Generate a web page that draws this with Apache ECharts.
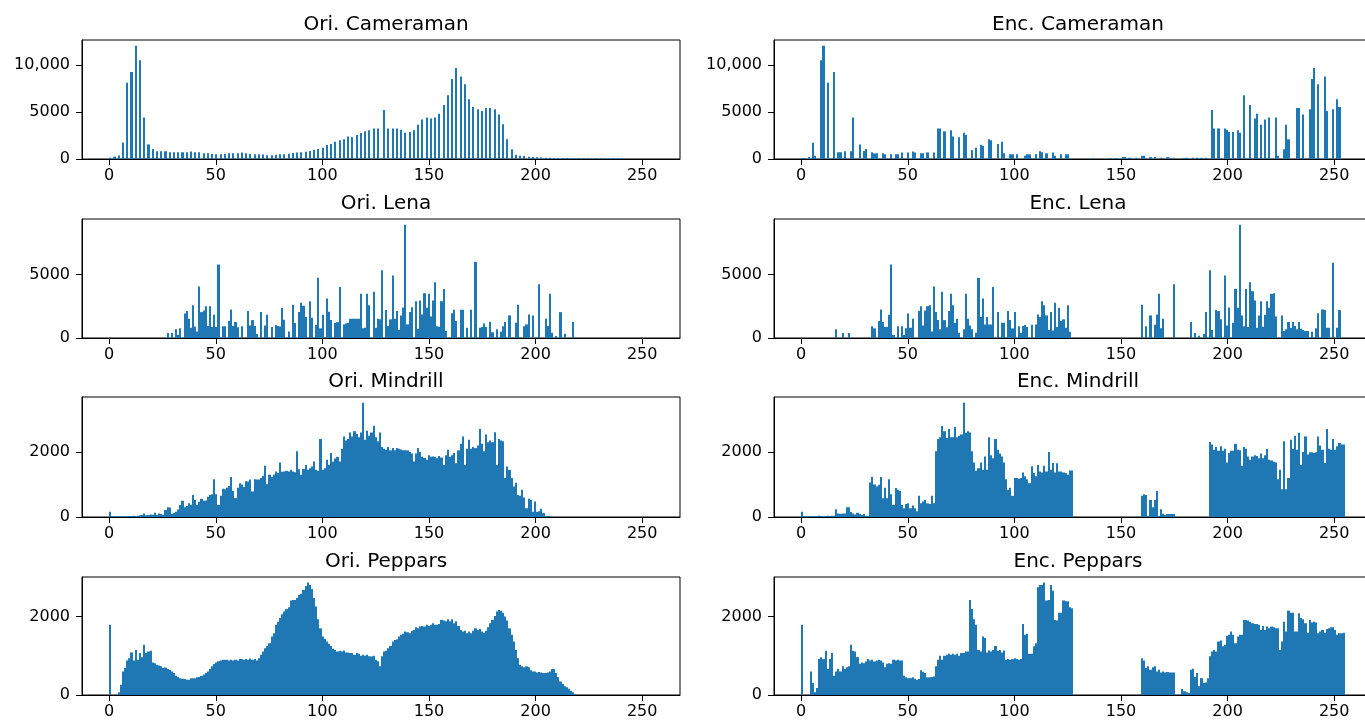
<!DOCTYPE html>
<html>
<head>
<meta charset="utf-8">
<script src="https://cdn.jsdelivr.net/npm/echarts@6/dist/echarts.min.js"></script>
<style>
html, body { margin: 0; background: #fff; overflow: hidden; }
#box { width: 1400px; height: 720px; }
</style>
</head>
<body>
<div id="box"></div>
<script>
// histogram titles, row by row (left, right)
var titles = ['Ori. Cameraman', 'Enc. Cameraman', 'Ori. Lena', 'Enc. Lena',
    'Ori. Mindrill', 'Enc. Mindrill', 'Ori. Peppars', 'Enc. Peppars'];
var xTicks = [0, 50, 100, 150, 200, 250];
var yTicks = [[0, 5000, 10000], [0, 5000], [0, 2000], [0, 2000]];

// sparse histograms: [bin, count]
var oriCameraman = [[0,120],[2,250],[4,380],[6,1750],[8,8100],[10,9250],[12,12050],[14,10500],[16,4400],[18,1550],
    [20,1060],[22,820],[24,820],[26,820],[28,720],[30,720],[32,720],[34,720],[36,720],[38,800],[40,720],[42,720],
    [44,620],[46,600],[48,520],[50,500],[52,500],[54,520],[56,600],[58,600],[60,620],[62,700],[64,600],[66,520],
    [68,500],[70,500],[72,480],[74,400],[76,400],[78,450],[80,500],[82,500],[84,560],[86,650],[88,700],[90,720],
    [92,780],[94,850],[96,950],[98,1050],[100,1200],[102,1490],[104,1600],[106,1840],[108,1990],[110,2090],
    [112,2400],[114,2300],[116,2550],[118,2770],[120,2940],[122,3050],[124,3250],[126,3250],[129,5200],
    [131,3250],[133,3250],[135,3250],[137,3120],[139,2800],[141,2870],[143,3050],[145,3650],[147,4200],
    [149,4400],[151,4300],[153,4400],[155,4800],[157,5750],[159,6770],[161,8500],[163,9680],[165,8760],
    [167,7940],[169,6350],[171,5530],[173,5280],[175,5100],[177,5430],[179,5430],[181,5280],[183,4720],
    [185,3690],[187,2090],[189,1030],[191,460],[193,350],[195,320],[197,250],[199,210],[201,180],[203,150],
    [205,130],[207,120],[209,110],[211,100],[213,100],[215,100],[217,90],[219,90],[221,90],[223,90],[225,80],
    [229,80],[231,80],[233,80],[235,80],[237,80],[239,80],[241,70]];
var encCameraman = [[0,100],[1,100],[3,200],[5,1740],[6,350],[9,10500],[10,12050],[12,8100],[15,9250],[17,720],
    [18,720],[20,820],[23,820],[24,4400],[27,1550],[29,850],[30,1060],[33,720],[34,600],[35,600],[38,600],
    [39,500],[42,500],[44,500],[45,500],[47,700],[50,700],[52,800],[53,700],[56,600],[57,600],[59,700],[62,700],
    [64,3250],[65,3250],[67,2940],[70,3050],[71,2400],[74,2300],[76,2800],[77,2550],[80,920],[82,1200],
    [84,1520],[85,1420],[88,2090],[89,1990],[92,1600],[94,1840],[95,600],[98,500],[99,500],[101,500],[105,350],
    [106,500],[107,500],[110,500],[112,820],[113,720],[115,600],[118,700],[119,350],[122,500],[124,500],
    [125,500],[137,100],[145,100],[148,100],[151,200],[152,200],[154,120],[155,120],[157,120],[160,350],
    [161,350],[164,200],[166,200],[169,120],[172,200],[173,120],[175,120],[180,120],[181,120],[184,120],
    [186,120],[188,120],[190,120],[193,5200],[194,3250],[196,3250],[199,3250],[200,3120],[201,2870],[203,2870],
    [205,3050],[206,2800],[208,6770],[211,5750],[213,4300],[214,4800],[216,3650],[218,4200],[220,4400],
    [223,4400],[224,350],[227,1030],[228,3650],[229,2090],[233,5430],[234,5430],[236,4720],[239,5280],
    [240,8500],[241,9680],[243,7940],[246,8760],[247,5100],[250,5280],[252,6350],[253,5530]];
var oriLena = [[27,390],[29,390],[31,680],[32,240],[33,760],[35,1940],[36,2120],[37,1520],[38,810],[39,2590],
    [40,900],[41,520],[42,4060],[43,2040],[44,2170],[45,2510],[46,940],[47,2510],[48,860],[49,1830],[50,860],
    [51,5790],[53,920],[54,920],[56,1340],[57,2250],[58,940],[59,1260],[60,840],[62,920],[65,2120],[66,990],
    [67,1410],[68,940],[69,310],[71,2040],[73,990],[74,1830],[76,860],[78,1020],[79,940],[80,900],[81,2360],
    [82,1440],[84,520],[86,2620],[87,1180],[89,2040],[90,2780],[91,2540],[92,1650],[94,2900],[95,1600],
    [97,1050],[98,4740],[99,760],[100,1830],[102,3120],[103,2070],[104,1410],[106,1180],[107,1250],[108,4010],
    [110,1070],[111,1150],[112,1200],[113,1520],[114,1520],[115,1520],[116,1520],[117,1520],[118,3480],
    [119,760],[120,800],[121,3480],[122,2590],[124,3640],[125,810],[126,1520],[127,1470],[128,5340],[130,2200],
    [131,940],[132,1470],[133,4920],[134,1520],[135,2120],[136,650],[137,1780],[138,2410],[139,8930],[140,1070],
    [141,2040],[142,2430],[144,2900],[145,730],[146,2960],[147,1860],[148,3530],[149,2380],[150,3480],
    [151,1700],[152,2960],[153,4400],[154,920],[155,890],[156,2900],[157,3870],[158,550],[161,1960],[162,2230],
    [163,1340],[165,2230],[166,2230],[168,810],[170,2230],[172,6000],[174,810],[175,860],[176,1150],[177,860],
    [179,1280],[180,450],[182,680],[184,500],[185,920],[186,1260],[188,1780],[191,1200],[192,2620],[195,920],
    [196,1070],[197,1860],[199,1780],[202,4240],[205,1520],[206,940],[207,3480],[208,420],[210,160],[212,2040],
    [214,340],[218,1260]];
var encLena = [[16,680],[19,390],[22,390],[33,920],[34,760],[36,1340],[37,2250],[38,1260],[39,860],[40,860],
    [41,1830],[42,5790],[43,240],[45,920],[47,920],[48,240],[49,760],[50,1940],[51,810],[52,1520],[55,2120],
    [56,2510],[57,990],[58,2170],[59,2510],[60,2590],[61,520],[62,4060],[63,2040],[64,1410],[65,680],[66,3640],
    [67,1410],[68,840],[69,2120],[70,3480],[71,2590],[72,1180],[73,1520],[74,420],[76,680],[77,3480],[78,1520],
    [79,990],[80,680],[82,420],[83,4740],[84,1650],[85,3120],[86,1070],[87,1650],[88,1070],[89,1070],[90,4010],
    [92,2040],[94,1200],[95,1200],[97,2120],[98,1410],[99,760],[100,2040],[102,920],[103,390],[104,940],
    [105,1020],[106,860],[108,1050],[110,1070],[111,1860],[112,1650],[113,2900],[114,2590],[115,1780],[116,630],
    [117,2040],[118,600],[119,2780],[120,860],[121,2380],[122,1340],[123,1470],[124,810],[125,2590],[126,500],
    [160,2620],[162,920],[164,1780],[166,1050],[167,1860],[168,3480],[169,760],[170,1520],[175,4240],[183,1260],
    [185,390],[187,180],[189,310],[190,2040],[192,5340],[193,630],[195,2200],[196,2120],[197,1470],[199,4920],
    [200,990],[201,2410],[203,1200],[204,3870],[205,2380],[206,8930],[207,1780],[208,920],[209,3870],[210,860],
    [211,4400],[212,3690],[213,2960],[214,810],[215,1780],[216,2900],[217,890],[218,1830],[219,2900],
    [220,2380],[221,3480],[222,3530],[223,1700],[226,1780],[227,550],[228,680],[229,1260],[230,810],[231,1260],
    [232,940],[233,680],[234,1260],[235,730],[236,630],[237,550],[238,550],[240,500],[242,760],[243,1960],
    [245,2250],[246,2200],[247,810],[248,810],[250,5920],[252,810],[253,2200]];

// dense histograms: count per bin 0..255
var oriMindrill = [
    165, 30, 25, 20, 20, 20, 20, 25, 20, 30,
    30, 35, 30, 40, 50, 60, 110, 55, 60, 80,
    70, 130, 60, 110, 90, 70, 215, 300, 290, 100,
    120, 165, 230, 370, 500, 300, 340, 420, 380, 680,
    520, 370, 470, 560, 500, 510, 620, 680, 700, 1165,
    700, 370, 650, 870, 855, 900, 950, 1230, 800, 580,
    900, 1040, 1000, 920, 1100, 1090, 1150, 785, 1165, 1150,
    1150, 1200, 1270, 1580, 1010, 1300, 1230, 1310, 1400, 1350,
    1680, 1390, 1400, 1420, 1400, 1450, 1400, 1380, 2020, 1470,
    1300, 1480, 1600, 1450, 1500, 1550, 1710, 1450, 1420, 2400,
    1450, 1500, 1760, 1600, 1970, 1700, 1800, 1850, 1710, 2100,
    2480, 2350, 2400, 2600, 2480, 2640, 2550, 2450, 2600, 3516,
    2380, 2650, 2500, 2600, 2810, 2450, 2330, 2600, 2150, 2100,
    2070, 2150, 2050, 2120, 2050, 2120, 2100, 2080, 2050, 2050,
    2050, 2000, 1950, 1710, 1950, 2120, 2000, 1850, 1820, 1760,
    1900, 1850, 1860, 1850, 1810, 1880, 1830, 1600, 1900, 2070,
    1850, 1900, 1970, 1650, 2050, 2250, 2480, 1600, 2100, 2380,
    2100, 2150, 2120, 2200, 2710, 2250, 2020, 2540, 2300, 2350,
    2300, 2610, 1600, 2400, 2350, 2330, 1200, 1550, 1450, 1200,
    940, 1050, 680, 650, 835, 600, 270, 560, 525, 165,
    480, 160, 180, 250, 120, 30, 30, 20, 0, 0,
    0, 0, 0, 0, 0, 0, 0, 0, 0, 0,
    0, 0, 0, 0, 0, 0, 0, 0, 0, 0,
    0, 0, 0, 0, 0, 0, 0, 0, 0, 0,
    0, 0, 0, 0, 0, 0, 0, 0, 0, 0,
    0, 0, 0, 0, 0, 0];
var encMindrill = [
    165, 30, 25, 30, 20, 30, 25, 30, 35, 30,
    25, 30, 35, 30, 40, 35, 240, 110, 100, 110,
    110, 300, 300, 150, 110, 80, 130, 90, 60, 90,
    40, 30, 1060, 1230, 1000, 940, 990, 1230, 580, 900,
    580, 1165, 700, 370, 890, 835, 800, 370, 270, 400,
    420, 270, 350, 270, 180, 650, 420, 480, 525, 420,
    400, 650, 420, 2020, 2400, 2450, 2800, 2640, 2430, 2710,
    2450, 2450, 2770, 2450, 2500, 2540, 3516, 2590, 2640, 2600,
    2020, 1680, 1420, 1500, 1680, 1450, 1860, 1450, 2450, 1900,
    1810, 2400, 2070, 1950, 1860, 1680, 1165, 835, 900, 650,
    1200, 1200, 1180, 1200, 1370, 1250, 1165, 1040, 1560, 1350,
    1250, 1600, 1400, 1370, 1580, 1400, 2000, 1450, 1660, 1370,
    1650, 1400, 1400, 1370, 1350, 1300, 1430, 1430, 0, 0,
    0, 0, 0, 0, 0, 0, 0, 0, 0, 0,
    0, 0, 0, 0, 0, 0, 0, 0, 0, 0,
    0, 0, 0, 0, 0, 0, 0, 0, 0, 0,
    650, 700, 680, 30, 525, 300, 525, 800, 30, 240,
    100, 60, 90, 90, 90, 90, 0, 0, 0, 0,
    0, 0, 0, 0, 0, 0, 0, 0, 0, 0,
    0, 0, 2310, 2230, 2070, 2150, 2040, 2180, 2040, 2100,
    1680, 1970, 2040, 2040, 2250, 2070, 2050, 1580, 2150, 2100,
    1860, 1760, 1860, 1900, 1880, 1810, 1950, 1810, 1900, 2090,
    1760, 1740, 1700, 1680, 1165, 1450, 855, 2330, 855, 1200,
    2380, 2100, 2500, 2070, 2590, 1600, 2000, 2480, 1920, 1990,
    1990, 1970, 1990, 2480, 2200, 2070, 1660, 2710, 2100, 2070,
    2400, 2070, 2180, 2280, 2230, 2230];
var oriPeppars = [
    1788, 0, 0, 0, 70, 260, 600, 690, 880, 940,
    1085, 880, 1150, 900, 1070, 960, 1280, 1070, 1110, 1130,
    830, 810, 770, 750, 730, 690, 700, 660, 640, 600,
    560, 490, 460, 430, 415, 405, 390, 390, 430, 430,
    430, 450, 460, 490, 520, 560, 600, 660, 730, 790,
    830, 860, 880, 900, 900, 900, 880, 900, 880, 900,
    880, 915, 915, 900, 915, 900, 930, 900, 915, 880,
    940, 1025, 1110, 1195, 1250, 1320, 1490, 1575, 1790, 1870,
    1960, 2060, 2130, 2190, 2240, 2410, 2420, 2420, 2470, 2550,
    2580, 2680, 2780, 2865, 2805, 2700, 2470, 2255, 1930, 1700,
    1490, 1425, 1365, 1305, 1250, 1180, 1150, 1110, 1130, 1110,
    1135, 1085, 1085, 1070, 1070, 1025, 1070, 1050, 1000, 1025,
    1000, 1025, 985, 985, 1000, 900, 860, 730, 985, 1110,
    1130, 1195, 1250, 1365, 1405, 1420, 1490, 1535, 1560, 1620,
    1600, 1575, 1640, 1660, 1730, 1700, 1745, 1760, 1745, 1790,
    1760, 1790, 1830, 1790, 1790, 1810, 1915, 1900, 1880, 1930,
    1880, 1930, 1830, 1880, 1760, 1660, 1620, 1640, 1575, 1620,
    1575, 1640, 1700, 1660, 1680, 1620, 1590, 1640, 1730, 1830,
    1915, 2015, 2130, 2170, 2150, 2100, 2000, 1900, 1700, 1535,
    1365, 1150, 940, 770, 730, 710, 730, 710, 630, 600,
    600, 575, 585, 575, 560, 560, 575, 600, 660, 660,
    560, 460, 345, 280, 220, 200, 160, 110, 70, 25,
    0, 0, 0, 0, 0, 0, 0, 0, 0, 0,
    0, 0, 0, 0, 0, 0, 0, 0, 0, 0,
    0, 0, 0, 0, 0, 0, 0, 0, 0, 0,
    0, 0, 0, 0, 0, 0];
var encPeppars = [
    1788, 0, 0, 0, 600, 305, 70, 180, 915, 965,
    915, 1130, 660, 915, 1070, 490, 600, 660, 600, 730,
    660, 710, 730, 1280, 1130, 1110, 965, 795, 830, 810,
    855, 915, 880, 900, 855, 880, 900, 880, 830, 710,
    795, 810, 795, 900, 880, 900, 880, 880, 490, 450,
    430, 430, 450, 415, 390, 405, 630, 590, 560, 450,
    450, 460, 470, 730, 900, 1000, 900, 1000, 1025, 1050,
    1025, 1050, 1025, 1050, 1000, 1070, 1070, 1110, 1110, 2420,
    2190, 1930, 1790, 1150, 1110, 1490, 1450, 1085, 1135, 1110,
    1150, 1250, 1130, 1150, 1085, 1135, 900, 915, 900, 915,
    940, 915, 900, 915, 1810, 1535, 1560, 1050, 1050, 1240,
    1320, 2745, 2805, 2805, 2865, 2410, 2420, 2805, 2660, 1915,
    1900, 2100, 2100, 2410, 2390, 2390, 2240, 2210, 0, 0,
    0, 0, 0, 0, 0, 0, 0, 0, 0, 0,
    0, 0, 0, 0, 0, 0, 0, 0, 0, 0,
    0, 0, 0, 0, 0, 0, 0, 0, 0, 0,
    940, 880, 690, 730, 645, 710, 730, 600, 645, 575,
    600, 575, 585, 575, 575, 575, 0, 0, 0, 150,
    95, 70, 50, 645, 670, 460, 560, 220, 430, 305,
    320, 430, 985, 1110, 1150, 1110, 1365, 1390, 1240, 1280,
    1510, 1535, 1620, 1535, 1320, 1490, 1535, 1535, 1915, 1915,
    1900, 1870, 1830, 1810, 1810, 1790, 1660, 1760, 1660, 1745,
    1700, 1745, 1730, 1700, 1700, 1150, 1365, 1870, 1620, 2150,
    2100, 2100, 1620, 1620, 2085, 1960, 1930, 1830, 1590, 1915,
    1850, 1870, 1850, 1575, 1620, 1660, 1590, 1680, 1700, 1730,
    1730, 1660, 1535, 1575, 1575, 1590];

window.onload = function () {

    var myChart = echarts.init(document.getElementById("box"));
    var binW = 255 / 256;
    var rowTop = [40, 219, 397, 577];
    var rowH = [119, 119, 120, 119];
    var colLeft = [82, 774];
    var plotW = 598;   // the right column runs past the 1365px window, as in the original
    var font = 'DejaVu Sans';

    function toPairs(arr) {
        var out = [];
        arr.forEach(function (v, i) { if (v > 0) out.push([i, v]); });
        return out;
    }
    var hists = [oriCameraman, encCameraman, oriLena, encLena,
        toPairs(oriMindrill), toPairs(encMindrill), toPairs(oriPeppars), toPairs(encPeppars)];

    // one rectangle per bin, edges taken from the axis scale and snapped to pixels
    // so that neighbouring bins join without hairline gaps
    function renderBin(params, api) {
        var i = api.value(0);
        var p0 = api.coord([i * binW, 0]);
        var p1 = api.coord([(i + 1) * binW, api.value(1)]);
        var x0 = Math.round(p0[0]), x1 = Math.max(Math.round(p1[0]), x0 + 1);
        return {
            type: 'rect',
            shape: { x: x0, y: p1[1], width: x1 - x0, height: p0[1] - p1[1] },
            style: { fill: '#1f77b4' }
        };
    }

    var option = { animation: false, title: [], grid: [], xAxis: [], yAxis: [], series: [] };

    titles.forEach(function (name, k) {
        var row = Math.floor(k / 2), col = k % 2;
        option.title.push({
            text: name,
            left: colLeft[col] + plotW / 2,
            top: rowTop[row] - 30,
            textAlign: 'center',
            textStyle: { fontFamily: font, fontSize: 20, fontWeight: 'normal', color: '#000' }
        });
        option.grid.push({
            left: colLeft[col], top: rowTop[row], width: plotW, height: rowH[row],
            show: true, borderColor: '#000', borderWidth: 1, backgroundColor: '#fff'
        });
        option.xAxis.push({
            type: 'value', gridIndex: k, min: -12.75, max: 267.75,
            splitLine: { show: false },
            axisLine: { onZero: false, lineStyle: { color: '#000', width: 1 } },
            axisTick: { length: 6, lineStyle: { color: '#000' }, customValues: xTicks },
            axisLabel: { customValues: xTicks, margin: 9, color: '#000', fontFamily: font, fontSize: 16 }
        });
        option.yAxis.push({
            type: 'value', gridIndex: k, min: 0,
            max: function (v) { return v.max * 1.05; },
            splitLine: { show: false },
            axisLine: { show: true, onZero: false, lineStyle: { color: '#000', width: 1 } },
            axisTick: { show: true, length: 6, lineStyle: { color: '#000' }, customValues: yTicks[row] },
            axisLabel: {
                customValues: yTicks[row], margin: 12, color: '#000', fontFamily: font, fontSize: 16,
                formatter: function (v) { return v >= 10000 ? echarts.format.addCommas(v) : String(v); }
            }
        });
        option.series.push({
            type: 'custom', xAxisIndex: k, yAxisIndex: k,
            renderItem: renderBin,
            encode: { x: 0, y: 1 },
            data: hists[k]
        });
    });

    myChart.setOption(option);
}
</script>
</body>
</html>
